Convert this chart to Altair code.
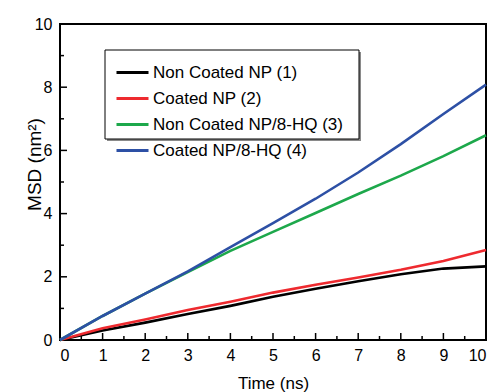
import altair as alt
import pandas as pd

# ---- data ----
time_ns = [0, 1, 2, 3, 4, 5, 6, 7, 8, 9, 10]
series_names = [
    "Non Coated NP (1)",
    "Coated NP (2)",
    "Non Coated NP/8-HQ (3)",
    "Coated NP/8-HQ (4)",
]
msd_1 = [0, 0.30, 0.55, 0.82, 1.08, 1.37, 1.62, 1.86, 2.08, 2.26, 2.33]
msd_2 = [0, 0.37, 0.65, 0.95, 1.21, 1.50, 1.75, 1.98, 2.22, 2.50, 2.85]
msd_3 = [0, 0.76, 1.47, 2.15, 2.82, 3.42, 4.02, 4.62, 5.20, 5.82, 6.48]
msd_4 = [0, 0.76, 1.47, 2.17, 2.94, 3.70, 4.47, 5.30, 6.20, 7.15, 8.08]
series_colors = ["#000000", "#ee2a2f", "#1da84b", "#2d50a5"]

x_major = [0, 1, 2, 3, 4, 5, 6, 7, 8, 9, 10]
x_minor = [0.5, 1.5, 2.5, 3.5, 4.5, 5.5, 6.5, 7.5, 8.5, 9.5]
y_major = [0, 2, 4, 6, 8, 10]
y_minor = [1, 3, 5, 7, 9]

rows = []
for name, vals in zip(series_names, [msd_1, msd_2, msd_3, msd_4]):
    for t, v in zip(time_ns, vals):
        rows.append({"series": name, "time": t, "msd": v})
df = pd.DataFrame(rows)

W, H = 426, 316
FONT = "Liberation Sans"

xscale = alt.Scale(domain=[0, 10], nice=False, zero=False)
yscale = alt.Scale(domain=[0, 10], nice=False, zero=False)

x_axis = alt.Axis(
    title="Time (ns)",
    values=x_major,
    format="d",
    labelPadding=7,
    titleY=48,
    titleBaseline="alphabetic",
    titleFontSize=17,
)
y_axis = alt.Axis(
    title="MSD (nm²)",
    values=y_major,
    format="d",
    labelPadding=8,
    titleAngle=270,
    titleX=-20,
    titleY=140,
    titleAlign="center",
    titleBaseline="alphabetic",
    titleFontSize=19,
)

# legend box (shadow + box)
shadow = alt.Chart(pd.DataFrame({"a": [0]})).mark_rect(fill="#8a8a8a").encode(
    x=alt.value(47), x2=alt.value(301), y=alt.value(28), y2=alt.value(117)
)
box = alt.Chart(pd.DataFrame({"a": [0]})).mark_rect(
    fill="white", stroke="black", strokeWidth=1
).encode(x=alt.value(45), x2=alt.value(299), y=alt.value(26), y2=alt.value(115))

lines = alt.Chart(df).mark_line(strokeWidth=2.6).encode(
    x=alt.X("time:Q", scale=xscale, axis=x_axis),
    y=alt.Y("msd:Q", scale=yscale, axis=y_axis),
    color=alt.Color(
        "series:N",
        scale=alt.Scale(domain=series_names, range=series_colors),
        legend=alt.Legend(
            title=None,
            orient="none",
            legendX=55,
            legendY=31,
            symbolType="stroke",
            symbolSize=1024,
            symbolStrokeWidth=3,
            labelFont=FONT,
            labelFontSize=17,
            labelColor="black",
            labelOffset=3,
            labelLimit=400,
            rowPadding=-1,
            padding=0,
        ),
    ),
    order=alt.Order("time:Q"),
)


def xticks(vals, length):
    return alt.Chart(pd.DataFrame({"time": vals})).mark_rule(
        color="black", strokeWidth=1.5
    ).encode(
        x=alt.X("time:Q", scale=xscale, axis=x_axis),
        y=alt.value(H),
        y2=alt.value(H - length),
    )


def yticks(vals, length):
    return alt.Chart(pd.DataFrame({"msd": vals})).mark_rule(
        color="black", strokeWidth=1.5
    ).encode(
        y=alt.Y("msd:Q", scale=yscale, axis=y_axis),
        x=alt.value(0),
        x2=alt.value(length),
    )


chart = (
    alt.layer(
        shadow,
        box,
        xticks(x_major, 7),
        xticks(x_minor, 4),
        yticks(y_major, 7),
        yticks(y_minor, 4),
        lines,
    )
    .properties(
        width=W,
        height=H,
        autosize=alt.AutoSizeParams(type="none"),
        padding={"left": 52, "top": 16, "right": 1, "bottom": 52},
    )
    .configure_view(stroke="black", strokeWidth=2)
    .configure_axis(
        domain=False,
        ticks=False,
        tickSize=0,
        grid=False,
        labelFont=FONT,
        labelFontSize=16,
        labelColor="black",
        titleFont=FONT,
        titleFontWeight="normal",
        titleColor="black",
    )
)

chart.save("out.html", embed_options={"renderer": "svg", "actions": False})
